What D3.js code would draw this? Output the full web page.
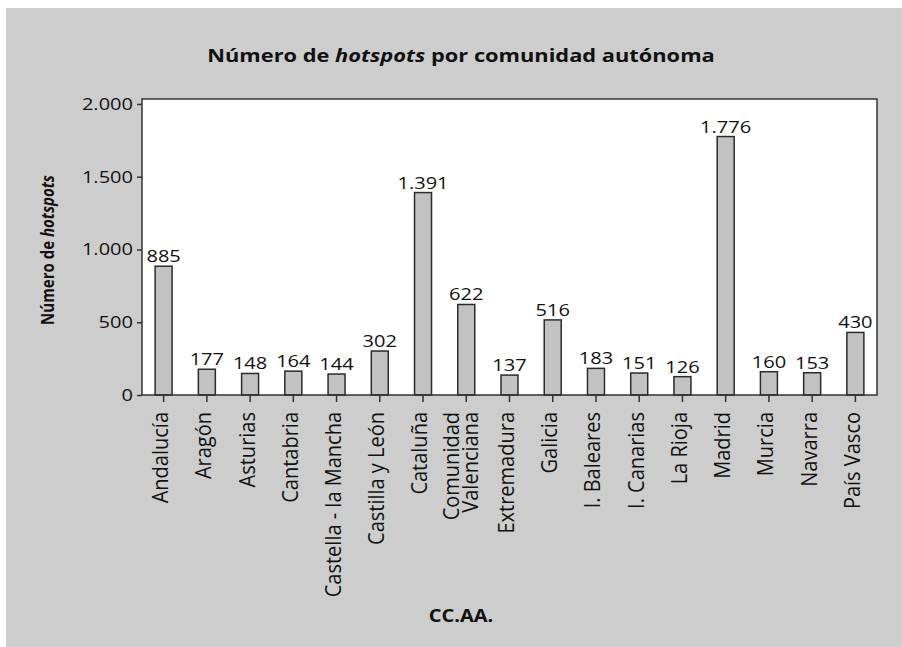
<!DOCTYPE html>
<html>
<head>
<meta charset="utf-8">
<script src="https://cdn.jsdelivr.net/npm/d3@7"></script>
<style>
  body { margin: 0; background: white; }
  svg { display: block; font-family: "Open Sans", sans-serif; }
</style>
</head>
<body>
<div id="chart"></div>
<script>
// categories (comunidades autónomas) and number of hotspots
const regions = [
  "Andalucía", "Aragón", "Asturias", "Cantabria", "Castella - la Mancha",
  "Castilla y León", "Cataluña", "Comunidad\nValenciana", "Extremadura", "Galicia",
  "I. Baleares", "I. Canarias", "La Rioja", "Madrid", "Murcia", "Navarra", "País Vasco"
];
const hotspots = [885, 177, 148, 164, 144, 302, 1391, 622, 137, 516, 183, 151, 126, 1776, 160, 153, 430];
const yTicks = [0, 500, 1000, 1500, 2000];

const data = regions.map((r, i) => ({ region: r, value: hotspots[i] }));

// spanish number format: 1.391
const es = d3.formatLocale({ decimal: ",", thousands: ".", grouping: [3], currency: ["", "€"] });
const fmt = es.format(",d");

// the lettering in the original is a bit wider than Open Sans
const sx = 1.18;

let width = 902,
    height = 647;

let margin = { top: 99, bottom: 252, left: 142, right: 25 };

let svg = d3.select("#chart")
            .append("svg")
            .attr("width", width)
            .attr("height", height);

// gray panel
svg.append("rect")
   .attr("x", 6)
   .attr("y", 8)
   .attr("width", width - 6)
   .attr("height", height - 8)
   .attr("fill", "#cdcdcd");

const plotBottom = height - margin.bottom;

// white plot area
svg.append("rect")
   .attr("x", margin.left)
   .attr("y", margin.top)
   .attr("width", width - margin.right - margin.left)
   .attr("height", plotBottom - margin.top)
   .attr("fill", "white");

const pin = 1 - 17 / 43.25;
const x = d3.scaleBand()
            .domain(regions)
            .range([margin.left, width - margin.right])
            .paddingInner(pin)
            .paddingOuter(pin / 2);

const y = d3.scaleLinear()
            .domain([0, 2034])
            .range([plotBottom, margin.top]);

// bars
svg.selectAll(".bar")
   .data(data)
   .enter()
   .append("rect")
   .attr("class", "bar")
   .attr("x", d => x(d.region))
   .attr("y", d => y(d.value))
   .attr("width", x.bandwidth())
   .attr("height", d => plotBottom - y(d.value))
   .attr("fill", "#c2c2c2")
   .attr("stroke", "#2b2b2b")
   .attr("stroke-width", 1.5);

// value labels
svg.selectAll(".val")
   .data(data)
   .enter()
   .append("text")
   .attr("class", "val")
   .attr("transform", d => `translate(${x(d.region) + x.bandwidth() / 2},${y(d.value) - 4}) scale(${sx},1)`)
   .attr("text-anchor", "middle")
   .attr("font-size", "17px")
   .attr("fill", "#111")
   .text(d => fmt(d.value));

// frame
svg.append("rect")
   .attr("x", margin.left)
   .attr("y", margin.top)
   .attr("width", width - margin.right - margin.left)
   .attr("height", plotBottom - margin.top)
   .attr("fill", "none")
   .attr("stroke", "#333")
   .attr("stroke-width", 1.5);

// y axis
let yaxis = svg.append("g")
               .attr("transform", `translate(${margin.left},0)`)
               .call(d3.axisLeft(y).tickValues(yTicks).tickFormat(fmt).tickSize(5));
yaxis.select(".domain").remove();
yaxis.selectAll("line").attr("stroke", "#333").attr("stroke-width", 1.5);
yaxis.selectAll("text")
     .attr("x", -9 / sx)
     .attr("transform", `scale(${sx},1)`)
     .attr("font-size", "17px").attr("fill", "#111")
     .attr("font-family", "Open Sans, sans-serif");

// x axis
let xaxis = svg.append("g")
               .attr("transform", `translate(0,${plotBottom})`)
               .call(d3.axisBottom(x).tickSize(7).tickFormat(""));
xaxis.select(".domain").remove();
xaxis.selectAll("line").attr("stroke", "#333").attr("stroke-width", 1.5);

// rotated category labels
regions.forEach(r => {
  const lines = r.split("\n");
  const cx = x(r) + x.bandwidth() / 2;
  const t = svg.append("text")
               .attr("transform", `translate(${cx},${plotBottom + 17}) scale(1.1,1) rotate(-90)`)
               .attr("text-anchor", "end")
               .attr("font-size", "20px")
               .attr("fill", "#111");
  lines.forEach((l, i) => {
    t.append("tspan")
     .attr("x", 0)
     .attr("y", lines.length === 1 ? 4 : (i === 0 ? -6.5 : 10.5))
     .text(l);
  });
});

// title
const title = svg.append("text")
   .attr("transform", `translate(461,62) scale(${sx},1)`)
   .attr("text-anchor", "middle")
   .attr("font-size", "18.5px")
   .attr("font-weight", "bold")
   .attr("fill", "#111");
title.append("tspan").text("Número de ");
title.append("tspan").attr("font-style", "italic").text("hotspots");
title.append("tspan").text(" por comunidad autónoma");

// y axis label
const ylab = svg.append("text")
   .attr("transform", `translate(54,${(margin.top + plotBottom) / 2 + 3}) scale(${sx},1) rotate(-90)`)
   .attr("text-anchor", "middle")
   .attr("font-size", "15px")
   .attr("font-weight", "bold")
   .attr("fill", "#111");
ylab.append("tspan").text("Número de ");
ylab.append("tspan").attr("font-style", "italic").text("hotspots");

// x axis label
svg.append("text")
   .attr("transform", `translate(461,622) scale(${sx},1)`)
   .attr("text-anchor", "middle")
   .attr("font-size", "17px")
   .attr("font-weight", "bold")
   .attr("fill", "#111")
   .text("CC.AA.");
</script>
</body>
</html>
